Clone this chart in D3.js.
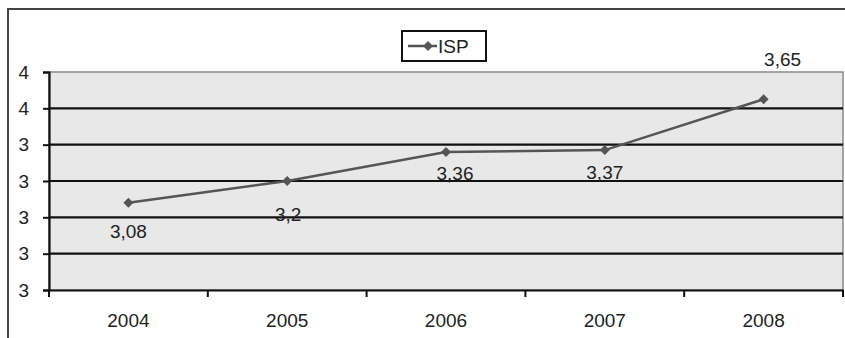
<!DOCTYPE html>
<html><head><meta charset="utf-8">
<script src="https://cdn.jsdelivr.net/npm/d3@7"></script>
<style>body{margin:0;background:#fff}svg{display:block;font-family:"Liberation Sans",Arial,sans-serif}</style>
</head><body><svg id="c" width="845" height="338"></svg>
<script>
const categories = ["2004","2005","2006","2007","2008"];
const seriesName = "ISP";
const values = [3.08, 3.2, 3.36, 3.37, 3.65];
const valueLabels = ["3,08","3,2","3,36","3,37","3,65"];
const yTicks = [2.6, 2.8, 3.0, 3.2, 3.4, 3.6, 3.8];

const svg = d3.select("#c");
const m = {l:49, r:843, t:72, b:290};
const x = d3.scaleBand().domain(categories).range([m.l, m.r]);
const y = d3.scaleLinear().domain([2.6, 3.8]).range([m.b, m.t]);
const FS = 19;

// outer frame
svg.append("path").attr("d","M8,338V9H845").attr("fill","none").attr("stroke","#444").attr("stroke-width",2);

// plot background
svg.append("rect").attr("x",m.l).attr("y",m.t).attr("width",m.r-m.l).attr("height",m.b-m.t)
  .attr("fill","#e8e8e8").attr("stroke","#8a8a8a").attr("stroke-width",1.5);

// gridlines
svg.append("g").selectAll("line").data(yTicks.filter(d=>d>2.6 && d<3.8)).join("line")
  .attr("x1",m.l).attr("x2",m.r).attr("y1",d=>y(d)).attr("y2",d=>y(d))
  .attr("stroke","#111").attr("stroke-width",2.2);

// y axis
const ya = svg.append("g").attr("transform",`translate(${m.l},0)`)
  .call(d3.axisLeft(y).tickValues(yTicks).tickFormat(d=>d3.format(".0f")(d)).tickSize(6).tickPadding(14));
ya.select(".domain").attr("stroke","#111").attr("stroke-width",2.2);
ya.selectAll(".tick line").attr("stroke","#111").attr("stroke-width",2);
ya.selectAll("text").attr("font-size",FS).attr("fill","#222").attr("font-family","Liberation Sans, Arial, sans-serif");

// x axis
const xa = svg.append("g").attr("transform",`translate(0,${m.b})`)
  .call(d3.axisBottom(x).tickSize(0).tickPadding(24));
xa.select(".domain").attr("stroke","#111").attr("stroke-width",2.2);
xa.selectAll("text").attr("font-size",FS).attr("fill","#222").attr("font-family","Liberation Sans, Arial, sans-serif");
// boundary ticks
svg.append("g").selectAll("line").data(categories).join("line")
  .attr("x1",d=>x(d)).attr("x2",d=>x(d)).attr("y1",m.b).attr("y2",m.b+7)
  .attr("stroke","#111").attr("stroke-width",2);
svg.append("line").attr("x1",m.r).attr("x2",m.r).attr("y1",m.b).attr("y2",m.b+7).attr("stroke","#111").attr("stroke-width",2);

// line
const cx = d => x(d) + x.bandwidth()/2;
svg.append("path").datum(values.map((v,i)=>[categories[i],v]))
  .attr("d", d3.line().x(d=>cx(d[0])).y(d=>y(d[1])))
  .attr("fill","none").attr("stroke","#555").attr("stroke-width",2.5);
const diamond = d3.symbol().type(d3.symbolSquare).size(50);
svg.append("g").selectAll("path").data(values).join("path")
  .attr("d",diamond).attr("transform",(d,i)=>`translate(${cx(categories[i])},${y(d)}) rotate(45)`).attr("fill","#555");

// data labels (manual offsets like the original)
const offs = [[0,29],[1,33],[9,22],[0,22],[19,-40]];
svg.append("g").selectAll("text").data(values).join("text")
  .attr("x",(d,i)=>cx(categories[i])+offs[i][0]).attr("y",(d,i)=>y(d)+offs[i][1])
  .attr("text-anchor","middle").attr("dominant-baseline","central")
  .attr("font-size",FS).attr("fill","#222").text((d,i)=>valueLabels[i]);

// legend
const lg = svg.append("g");
lg.append("rect").attr("x",402).attr("y",31).attr("width",84).attr("height",30)
  .attr("fill","#fff").attr("stroke","#111").attr("stroke-width",2);
lg.append("line").attr("x1",408).attr("x2",437).attr("y1",46).attr("y2",46).attr("stroke","#555").attr("stroke-width",2.5);
lg.append("path").attr("d",diamond).attr("transform","translate(428,46) rotate(45)").attr("fill","#555");
lg.append("text").attr("x",438).attr("y",46).attr("dominant-baseline","central").attr("font-size",FS).attr("fill","#222").text(seriesName);
</script></body></html>
